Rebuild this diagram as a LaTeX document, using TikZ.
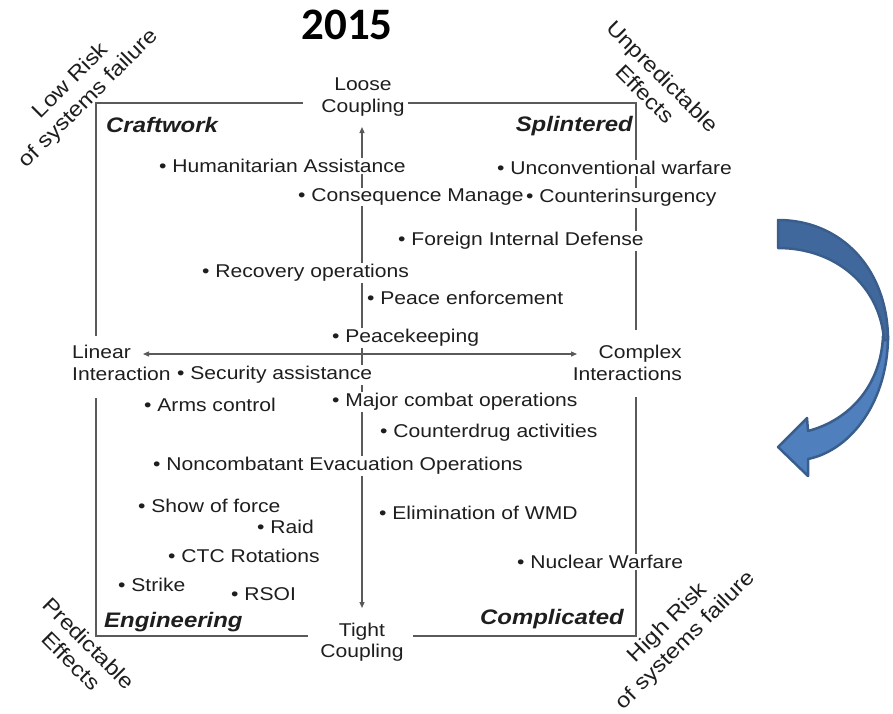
\documentclass[tikz,border=0pt]{standalone}
\usepackage{fontspec}
\setmainfont{Liberation Sans}[FakeStretch=1.14]
\newfontfamily\yearfont{Carlito}
\usetikzlibrary{arrows.meta}
\definecolor{txt}{HTML}{1E1E1E}
\definecolor{linegray}{HTML}{5A5A5A}
\definecolor{arrowdark}{HTML}{41689C}
\definecolor{arrowlight}{HTML}{4F80BD}
\definecolor{arrowedge}{HTML}{3A5E8C}
\tikzset{
  item/.style={anchor=west, fill=white, inner sep=1pt, text=txt, font=\fontsize{18.5}{22}\selectfont},
  quad/.style={font=\fontsize{21}{24}\selectfont\bfseries\itshape, text=txt, inner sep=0pt},
  axislabel/.style={font=\fontsize{18.5}{21.5}\selectfont, text=txt, inner sep=0pt},
  diag/.style={font=\fontsize{21}{25}\selectfont, text=txt, align=center, inner sep=0pt},
  boxline/.style={draw=linegray, line width=1.8pt},
  axisline/.style={draw=linegray, line width=1.2pt, {Triangle[length=6pt,width=5pt]}-{Triangle[length=6pt,width=5pt]}},
  arrowpart/.style={draw=arrowedge, line width=2.5pt, line join=round}
}
\begin{document}
\begin{tikzpicture}[x=1pt,y=-1pt]
\useasboundingbox (0,0) rectangle (893,713);

% title
\node[font=\yearfont\fontsize{45}{48}\selectfont\bfseries, text=black] (year) at (347,25) {2015};

% frame
\draw[boxline] (303,103) -- (96,103) -- (96,336);
\draw[boxline] (96,398) -- (96,636) -- (308,636);
\draw[boxline] (408,103) -- (636,103) -- (636,330);
\draw[boxline] (636,397) -- (636,636) -- (413,636);

% axes
\coordinate (vt) at (362,127);
\coordinate (vb) at (362,608);
\coordinate (hl) at (143,354);
\coordinate (hr) at (577,354);
\draw[axisline] (vt) -- (vb);
\draw[axisline] (hl) -- (hr);

% axis labels
\node[axislabel, align=center] (loose) at (363,97) {Loose\\Coupling};
\node[axislabel, align=center] (tight) at (362,642) {Tight\\Coupling};
\node[axislabel, align=left, anchor=west] (linear) at (72,363) {Linear\\Interaction};
\node[axislabel, align=right, anchor=east] (complex) at (682,363) {Complex\\Interactions};

% quadrant titles
\node[quad, anchor=west] (craft) at (106,125) {Craftwork};
\node[quad, anchor=east] (splint) at (633,126) {Splintered};
\node[quad, anchor=west] (engin) at (104,622) {Engineering};
\node[quad, anchor=east] (compl) at (624,619) {Complicated};

% items
\node[item] (hum) at (158,166) {\textbullet\ Humanitarian Assistance};
\node[item] (unconv) at (496,168) {\textbullet\ Unconventional warfare};
\node[item] (conseq) at (297,197) {\textbullet\ Consequence Manage};
\node[item] (counterins) at (525,198) {\textbullet\ Counterinsurgency};
\node[item] (fid) at (397,241) {\textbullet\ Foreign Internal Defense};
\node[item] (recov) at (201,273) {\textbullet\ Recovery operations};
\node[item] (peaceenf) at (366,298) {\textbullet\ Peace enforcement};
\node[item] (peacekeep) at (331,338) {\textbullet\ Peacekeeping};
\node[item] (secass) at (176,375) {\textbullet\ Security assistance};
\node[item] (arms) at (143,405) {\textbullet\ Arms control};
\node[item] (major) at (331,402) {\textbullet\ Major combat operations};
\node[item] (drug) at (379,433) {\textbullet\ Counterdrug activities};
\node[item] (neo) at (152,466) {\textbullet\ Noncombatant Evacuation Operations};
\node[item] (show) at (137,506) {\textbullet\ Show of force};
\node[item] (raid) at (256,527) {\textbullet\ Raid};
\node[item] (wmd) at (378,513) {\textbullet\ Elimination of WMD};
\node[item] (ctc) at (167,556) {\textbullet\ CTC Rotations};
\node[item] (nuc) at (516,562) {\textbullet\ Nuclear Warfare};
\node[item] (strike) at (117,585) {\textbullet\ Strike};
\node[item] (rsoi) at (230,594) {\textbullet\ RSOI};

% diagonal corner labels
\node[diag, rotate=45] (lowrisk) at (80,90) {Low Risk\\of systems failure};
\node[diag, rotate=-45] (unpred) at (654,85) {Unpredictable\\Effects};
\node[diag, rotate=-45] (pred) at (80,652) {Predictable\\Effects};
\node[diag, rotate=45] (highrisk) at (677,632) {High Risk\\of systems failure};

% curved arrow
\draw[arrowpart, fill=arrowlight] (888,336) .. controls (888,400) and (852,450) .. (808,459)
   -- (808,476) -- (778,447) -- (807,418) -- (808,431)
   .. controls (850,420) and (881,385) .. (883,336) -- cycle;
\draw[arrowpart, fill=arrowdark] (778,220) .. controls (842,220) and (888,270) .. (888,340)
   -- (884,340) .. controls (880,286) and (836,248) .. (778,248) -- cycle;
\end{tikzpicture}
\end{document}
